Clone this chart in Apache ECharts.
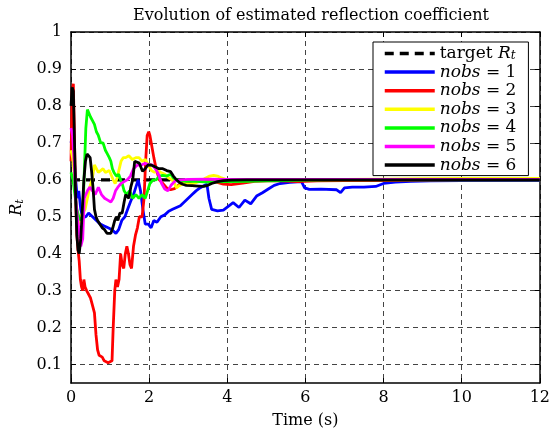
<!DOCTYPE html>
<html><head><meta charset="utf-8">
<script src="https://cdn.jsdelivr.net/npm/echarts@6/dist/echarts.min.js"></script>
<style>html,body{margin:0;padding:0;background:#fff}#c{width:553px;height:442px}</style>
</head><body><div id="c"></div>
<script>
const titleText = 'Evolution of estimated reflection coefficient';
const xTicks = [0, 2, 4, 6, 8, 10, 12];
const yTicks = [0.1, 0.2, 0.3, 0.4, 0.5, 0.6, 0.7, 0.8, 0.9, 1];
const seriesNames = ['target', 'nobs1', 'nobs2', 'nobs3', 'nobs4', 'nobs5', 'nobs6'];
const targetT = [0, 12];
const targetV = [0.6, 0.6];

const t1 = [0, 0.04, 0.08, 0.12, 0.16, 0.2, 0.25, 0.3, 0.38, 0.45, 0.55, 0.65, 0.75, 0.85, 0.95, 1.05, 1.15, 1.22, 1.3, 1.38, 1.45, 1.52, 1.6, 1.66, 1.72, 1.78, 1.84, 1.9, 1.98, 2.05, 2.12, 2.2, 2.3, 2.4, 2.5, 2.6, 2.7, 2.8, 2.9, 3.0, 3.1, 3.2, 3.3, 3.42, 3.48, 3.53, 3.6, 3.75, 3.9, 4.05, 4.15, 4.3, 4.45, 4.6, 4.75, 4.9, 5.05, 5.2, 5.35, 5.6, 5.9, 5.98, 6.1, 6.4, 6.8, 6.9, 7.0, 7.2, 7.5, 7.8, 8.0, 8.3, 8.7, 9.2, 10, 11, 12];
const v1 = [0.7, 0.72, 0.66, 0.6, 0.55, 0.57, 0.52, 0.5, 0.5, 0.51, 0.5, 0.49, 0.48, 0.475, 0.47, 0.465, 0.455, 0.465, 0.49, 0.5, 0.52, 0.54, 0.56, 0.58, 0.6, 0.57, 0.52, 0.48, 0.48, 0.47, 0.49, 0.485, 0.5, 0.505, 0.515, 0.52, 0.525, 0.53, 0.54, 0.55, 0.56, 0.57, 0.578, 0.585, 0.588, 0.55, 0.52, 0.516, 0.518, 0.53, 0.538, 0.525, 0.545, 0.535, 0.556, 0.565, 0.575, 0.585, 0.59, 0.593, 0.595, 0.578, 0.574, 0.575, 0.573, 0.565, 0.578, 0.58, 0.58, 0.582, 0.59, 0.594, 0.596, 0.597, 0.598, 0.598, 0.598];

const t2 = [0, 0.03, 0.06, 0.09, 0.12, 0.15, 0.18, 0.21, 0.24, 0.27, 0.3, 0.33, 0.36, 0.4, 0.45, 0.5, 0.55, 0.6, 0.64, 0.68, 0.72, 0.8, 0.85, 0.9, 0.95, 1.0, 1.05, 1.08, 1.12, 1.15, 1.19, 1.23, 1.27, 1.31, 1.35, 1.39, 1.43, 1.47, 1.51, 1.55, 1.6, 1.65, 1.7, 1.75, 1.82, 1.87, 1.91, 1.95, 1.99, 2.02, 2.07, 2.12, 2.18, 2.26, 2.35, 2.45, 2.55, 2.65, 2.75, 2.9, 3.1, 3.4, 3.7, 3.9, 4.1, 4.4, 4.7, 5.2, 5.8, 6.3, 7, 8, 9, 10, 11, 12];
const v2 = [0.65, 0.84, 0.86, 0.7, 0.55, 0.45, 0.41, 0.38, 0.33, 0.31, 0.3, 0.33, 0.31, 0.3, 0.3, 0.28, 0.26, 0.24, 0.18, 0.14, 0.125, 0.12, 0.11, 0.11, 0.105, 0.105, 0.11, 0.2, 0.3, 0.33, 0.31, 0.33, 0.4, 0.37, 0.36, 0.4, 0.42, 0.4, 0.37, 0.36, 0.42, 0.45, 0.47, 0.5, 0.5, 0.55, 0.65, 0.72, 0.73, 0.72, 0.69, 0.66, 0.63, 0.6, 0.59, 0.578, 0.573, 0.576, 0.585, 0.592, 0.596, 0.597, 0.594, 0.588, 0.587, 0.591, 0.596, 0.598, 0.595, 0.597, 0.598, 0.598, 0.599, 0.6, 0.6, 0.6];

const t3 = [0, 0.04, 0.08, 0.12, 0.16, 0.2, 0.25, 0.3, 0.36, 0.42, 0.48, 0.54, 0.6, 0.65, 0.7, 0.76, 0.82, 0.88, 0.93, 0.98, 1.03, 1.08, 1.13, 1.18, 1.23, 1.28, 1.34, 1.4, 1.48, 1.57, 1.66, 1.74, 1.82, 1.9, 1.98, 2.06, 2.14, 2.22, 2.3, 2.4, 2.5, 2.58, 2.65, 2.7, 2.78, 2.9, 3.05, 3.2, 3.35, 3.45, 3.55, 3.65, 3.75, 3.85, 4.0, 4.5, 5, 6, 7, 8, 9, 10, 11, 12];
const v3 = [0.68, 0.66, 0.62, 0.55, 0.5, 0.48, 0.5, 0.5, 0.52, 0.55, 0.58, 0.6, 0.64, 0.63, 0.62, 0.625, 0.63, 0.62, 0.615, 0.625, 0.62, 0.6, 0.59, 0.605, 0.6, 0.65, 0.66, 0.66, 0.665, 0.655, 0.66, 0.66, 0.65, 0.655, 0.64, 0.625, 0.62, 0.625, 0.62, 0.615, 0.605, 0.6, 0.59, 0.578, 0.585, 0.59, 0.588, 0.592, 0.598, 0.605, 0.61, 0.612, 0.61, 0.605, 0.6, 0.598, 0.599, 0.6, 0.601, 0.602, 0.603, 0.604, 0.604, 0.604];

const t4 = [0, 0.05, 0.1, 0.15, 0.2, 0.25, 0.3, 0.34, 0.38, 0.42, 0.46, 0.5, 0.55, 0.6, 0.65, 0.7, 0.76, 0.82, 0.88, 0.93, 0.98, 1.02, 1.06, 1.1, 1.16, 1.22, 1.27, 1.31, 1.36, 1.42, 1.5, 1.58, 1.66, 1.74, 1.82, 1.9, 1.96, 2.02, 2.1, 2.18, 2.26, 2.35, 2.45, 2.55, 2.62, 2.7, 2.8, 2.95, 3.2, 3.5, 4, 4.5, 5, 5.5, 6, 7, 8, 9, 10, 11, 12];
const v4 = [0.62, 0.6, 0.56, 0.52, 0.5, 0.49, 0.5, 0.62, 0.74, 0.79, 0.78, 0.77, 0.76, 0.75, 0.73, 0.72, 0.7, 0.7, 0.68, 0.67, 0.66, 0.65, 0.63, 0.62, 0.61, 0.615, 0.6, 0.59, 0.57, 0.56, 0.57, 0.55, 0.56, 0.55, 0.56, 0.55, 0.57, 0.59, 0.6, 0.6, 0.61, 0.612, 0.61, 0.615, 0.605, 0.6, 0.598, 0.596, 0.596, 0.594, 0.595, 0.596, 0.597, 0.598, 0.599, 0.6, 0.6, 0.6, 0.6, 0.6, 0.6];

const t5 = [0, 0.04, 0.08, 0.12, 0.16, 0.2, 0.25, 0.3, 0.34, 0.38, 0.42, 0.48, 0.55, 0.62, 0.7, 0.78, 0.86, 0.94, 1.02, 1.08, 1.14, 1.2, 1.28, 1.36, 1.44, 1.52, 1.6, 1.7, 1.8, 1.9, 2.0, 2.08, 2.16, 2.24, 2.32, 2.4, 2.48, 2.56, 2.66, 2.8, 3.0, 3.5, 4, 5, 6, 7, 8, 9, 10, 11, 12];
const v5 = [0.74, 0.72, 0.65, 0.55, 0.5, 0.47, 0.42, 0.44, 0.55, 0.56, 0.57, 0.58, 0.57, 0.56, 0.58, 0.56, 0.55, 0.545, 0.54, 0.55, 0.57, 0.58, 0.59, 0.595, 0.6, 0.61, 0.63, 0.64, 0.64, 0.645, 0.64, 0.64, 0.63, 0.615, 0.59, 0.575, 0.57, 0.585, 0.596, 0.6, 0.601, 0.602, 0.601, 0.601, 0.601, 0.601, 0.601, 0.601, 0.601, 0.601, 0.601];

const t6 = [0, 0.03, 0.06, 0.09, 0.12, 0.15, 0.18, 0.21, 0.25, 0.29, 0.33, 0.37, 0.41, 0.45, 0.49, 0.53, 0.57, 0.6, 0.64, 0.68, 0.74, 0.8, 0.86, 0.92, 0.97, 1.02, 1.07, 1.12, 1.16, 1.2, 1.25, 1.31, 1.36, 1.4, 1.48, 1.53, 1.58, 1.63, 1.68, 1.75, 1.83, 1.9, 1.97, 2.05, 2.15, 2.25, 2.35, 2.45, 2.55, 2.62, 2.7, 2.78, 2.86, 2.95, 3.1, 3.25, 3.4, 3.5, 3.6, 3.75, 3.9, 4.1, 4.5, 5, 6, 7, 8, 9, 10, 11, 12];
const v6 = [0.8, 0.85, 0.84, 0.7, 0.55, 0.45, 0.41, 0.4, 0.44, 0.52, 0.6, 0.65, 0.67, 0.67, 0.66, 0.62, 0.57, 0.52, 0.5, 0.49, 0.48, 0.47, 0.465, 0.455, 0.45, 0.455, 0.47, 0.49, 0.5, 0.49, 0.51, 0.51, 0.54, 0.56, 0.55, 0.58, 0.6, 0.65, 0.655, 0.645, 0.623, 0.63, 0.64, 0.64, 0.635, 0.63, 0.63, 0.625, 0.622, 0.61, 0.6, 0.592, 0.588, 0.585, 0.584, 0.583, 0.582, 0.585, 0.59, 0.595, 0.598, 0.599, 0.6, 0.6, 0.6, 0.6, 0.6, 0.6, 0.6, 0.6, 0.6];

const colors = ['#000000', '#0000ff', '#ff0000', '#ffff00', '#00ff00', '#ff00ff', '#000000'];
const allT = [targetT, t1, t2, t3, t4, t5, t6];
const allV = [targetV, v1, v2, v3, v4, v5, v6];

const serif = 'DejaVu Serif';
const FS = 16;
const legendLabels = {
  target: '{n|target }{i|R}{s|t}',
  nobs1: '{i|nobs}{n| = 1}', nobs2: '{i|nobs}{n| = 2}', nobs3: '{i|nobs}{n| = 3}',
  nobs4: '{i|nobs}{n| = 4}', nobs5: '{i|nobs}{n| = 5}', nobs6: '{i|nobs}{n| = 6}'
};

const series = seriesNames.map((name, k) => ({
  name: name,
  type: 'line',
  showSymbol: false,
  symbol: 'none',
  animation: false,
  clip: true,
  color: colors[k],
  lineStyle: k === 0 ? { color: colors[k], width: 3.2, type: [9, 6] } : { color: colors[k], width: 2.8 },
  data: allT[k].map((t, i) => [t, allV[k][i]]),
  z: 2 + k
}));

const chart = echarts.init(document.getElementById('c'), null, { renderer: 'canvas' });
const gridLine = { show: true, lineStyle: { color: '#444', type: [5, 4], width: 1 } };
const LFS = 17;
const richLegend = {
  n: { fontFamily: serif, fontSize: LFS, lineHeight: 17, color: '#000' },
  i: { fontFamily: serif, fontSize: LFS, fontStyle: 'italic', lineHeight: 17, color: '#000' },
  s: { fontFamily: serif, fontSize: 12, fontStyle: 'italic', lineHeight: 9, verticalAlign: 'bottom', color: '#000' }
};
const richName = {
  i: { fontFamily: serif, fontSize: FS, fontStyle: 'italic', lineHeight: 17, color: '#000' },
  s: { fontFamily: serif, fontSize: 11, fontStyle: 'italic', lineHeight: 9, verticalAlign: 'bottom', color: '#000' }
};
chart.setOption({
  backgroundColor: '#fff',
  animation: false,
  title: {
    text: titleText, left: 306, top: 3, textAlign: 'center',
    textStyle: { fontFamily: serif, fontSize: FS, fontWeight: 'normal', color: '#000' }
  },
  grid: { left: 71, right: 12, top: 32, bottom: 59, containLabel: false },
  legend: {
    orient: 'vertical', left: 373, top: 42,
    backgroundColor: '#fff', borderColor: '#000', borderWidth: 1, borderRadius: 0,
    padding: [3, 12, 2, 10], itemWidth: 50, itemHeight: 12, itemGap: 1.6,
    itemStyle: { opacity: 0, borderWidth: 0 },
    lineStyle: { width: 3.5 },
    data: seriesNames,
    formatter: n => legendLabels[n],
    textStyle: { fontFamily: serif, fontSize: LFS, color: '#000', lineHeight: 17, rich: richLegend }
  },
  xAxis: [{
    type: 'value', min: 0, max: 12, interval: 2, position: 'bottom',
    name: 'Time (s)', nameLocation: 'middle', nameGap: 30,
    nameTextStyle: { fontFamily: serif, fontSize: FS, color: '#000' },
    axisLine: { show: true, onZero: false, lineStyle: { color: '#000', width: 1.5 } },
    axisTick: { show: true, inside: true, length: 5, lineStyle: { color: '#000' } },
    axisLabel: { fontFamily: serif, fontSize: FS, color: '#000', margin: 7 },
    splitLine: gridLine
  }, {
    type: 'value', min: 0, max: 12, interval: 2, position: 'top',
    axisLine: { show: true, onZero: false, lineStyle: { color: '#000', width: 1.5 } },
    axisTick: { show: true, inside: true, length: 5, lineStyle: { color: '#000' } },
    axisLabel: { show: false }, splitLine: { show: false }
  }],
  yAxis: [{
    type: 'value', min: 0.05, max: 1, position: 'left',
    name: '{i|R}{s|t}', nameLocation: 'middle', nameGap: 36, nameRotate: 90,
    nameTextStyle: { fontFamily: serif, fontSize: FS, color: '#000', rich: richName },
    axisLine: { show: true, onZero: false, lineStyle: { color: '#000', width: 1.5 } },
    axisTick: { show: true, inside: true, length: 5, lineStyle: { color: '#000' }, customValues: yTicks },
    axisLabel: { fontFamily: serif, fontSize: FS, color: '#000', margin: 9, customValues: yTicks },
    splitLine: gridLine
  }, {
    type: 'value', min: 0.05, max: 1, position: 'right',
    axisLine: { show: true, onZero: false, lineStyle: { color: '#000', width: 1.5 } },
    axisTick: { show: true, inside: true, length: 5, lineStyle: { color: '#000' }, customValues: yTicks },
    axisLabel: { show: false, customValues: yTicks }, splitLine: { show: false }
  }],
  series: series
});
</script></body></html>
